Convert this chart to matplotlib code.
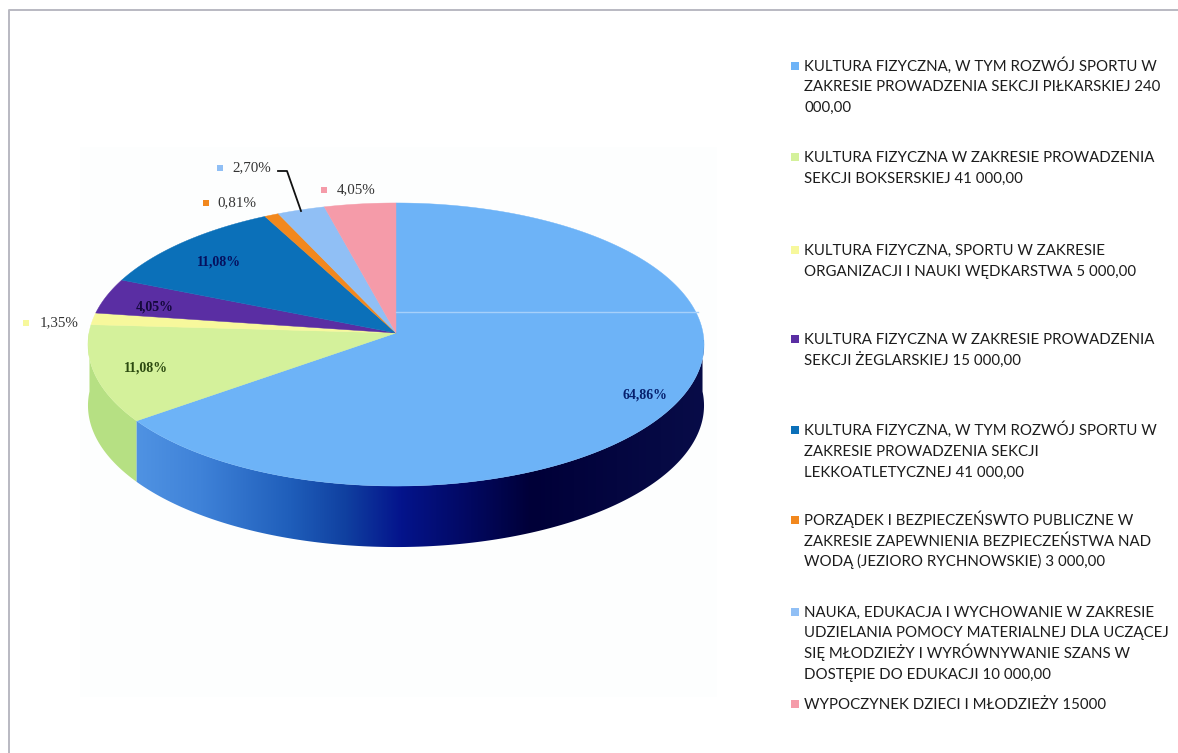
import numpy as np
import matplotlib
matplotlib.use('Agg')
import matplotlib.pyplot as plt
from matplotlib.patches import Polygon

# Data
values = [240000, 41000, 5000, 15000, 41000, 3000, 10000, 15000]
colors = ['#6db3f7', '#d4f19b', '#f7f89c', '#5a2ea3', '#0b70b9', '#f2881d', '#90bff5', '#f59ba9']
legend_labels = [
    'KULTURA FIZYCZNA, W TYM ROZWÓJ SPORTU W\nZAKRESIE PROWADZENIA SEKCJI PIŁKARSKIEJ 240\n000,00',
    'KULTURA FIZYCZNA W ZAKRESIE PROWADZENIA\nSEKCJI BOKSERSKIEJ 41 000,00',
    'KULTURA FIZYCZNA, SPORTU W ZAKRESIE\nORGANIZACJI I NAUKI WĘDKARSTWA 5 000,00',
    'KULTURA FIZYCZNA W ZAKRESIE PROWADZENIA\nSEKCJI ŻEGLARSKIEJ 15 000,00',
    'KULTURA FIZYCZNA, W TYM ROZWÓJ SPORTU W\nZAKRESIE PROWADZENIA SEKCJI\nLEKKOATLETYCZNEJ 41 000,00',
    'PORZĄDEK I BEZPIECZEŃSWTO PUBLICZNE W\nZAKRESIE ZAPEWNIENIA BEZPIECZEŃSTWA NAD\nWODĄ (JEZIORO RYCHNOWSKIE) 3 000,00',
    'NAUKA, EDUKACJA I WYCHOWANIE W ZAKRESIE\nUDZIELANIA POMOCY MATERIALNEJ DLA UCZĄCEJ\nSIĘ MŁODZIEŻY I WYRÓWNYWANIE SZANS W\nDOSTĘPIE DO EDUKACJI 10 000,00',
    'WYPOCZYNEK DZIECI I MŁODZIEŻY 15000',
]

# layout, all in image pixels
W, H = 1178, 753
APEX_X, APEX_Y = 396, 333
RX, RY, K = 307, 140.6, 0.0813   # perspective of the tilted disc
DEPTH = 61
legend_base = [70.7, 162, 255, 344, 435, 525, 616.7, 709]
LINE_STEP = 20.7
# (x, y) of label centres, None = outside label with its own marker
inside_labels = {0: (645, 395), 1: (146, 368), 3: (155, 307), 4: (219, 262)}
inside_colors = {0: '#06206e', 1: '#2c4a10', 3: '#14083c', 4: '#06105e'}
outside_labels = {2: (59, 323, 26), 5: (237, 203, 206), 6: (252, 168, 220), 7: (356, 190, 324)}


def project(deg, r=1.0):
    t = np.radians(deg)
    w = 1 + K * r * np.sin(t)
    return APEX_X + RX * r * np.cos(t) / w, APEX_Y - RY * r * np.sin(t) / w


fig = plt.figure(figsize=(W / 100, H / 100), dpi=100)
ax = fig.add_axes([0, 0, 1, 1])
ax.set_xlim(0, W)
ax.set_ylim(H, 0)
ax.axis('off')

# page edge and the faint chart area of the scan
ax.plot([1178, 9, 9], [10, 10, 753], color='#b9b9c2', lw=1.4)
ax.fill_between([80, 717], 147, 697, color='#fdfefe', lw=0)

shares = np.array(values) / sum(values)
edges = 90 - 360 * np.concatenate([[0], np.cumsum(shares)])

# side of the disc
blue_end = edges[1]
side_t = np.linspace(-180 - 1, blue_end, 60)
x, y = project(side_t)
ax.fill(np.r_[x, x[::-1]], np.r_[y, y[::-1] + DEPTH], color='#b6e083', lw=0)

side_t = np.linspace(blue_end, 1, 200)
x, y = project(side_t)
poly = Polygon(np.c_[np.r_[x, x[::-1]], np.r_[y, y[::-1] + DEPTH]], closed=True, fc='none', ec='none',
               transform=ax.transData)
ax.add_patch(poly)
stops_x = [139, 200, 290, 345, 400, 470, 530, 704]
stops_r = [0x4f, 0x3f, 0x1f, 0x10, 0x04, 0x02, 0x00, 0x08]
stops_g = [0x92, 0x82, 0x5e, 0x40, 0x14, 0x08, 0x00, 0x0c]
stops_b = [0xe2, 0xd8, 0xba, 0xa0, 0x8c, 0x60, 0x38, 0x48]
gx = np.arange(130, 710)
grad = np.dstack([np.interp(gx, stops_x, s) / 255 for s in (stops_r, stops_g, stops_b)])
im = ax.imshow(grad, extent=[130, 710, 560, 340], aspect='auto', zorder=2)
im.set_clip_path(poly)
ax.set_xlim(0, W)
ax.set_ylim(H, 0)

# top of the disc
for i in range(len(values)):
    t = np.linspace(edges[i], edges[i + 1], max(int(abs(edges[i + 1] - edges[i])) * 2, 4))
    x, y = project(t)
    ax.fill(np.r_[APEX_X, x], np.r_[APEX_Y, y], color=colors[i], lw=0.3, zorder=3)

# scan artefact across the big slice
ax.plot([396, 698], [312, 312], color='#a6d0fa', lw=1, zorder=3)

# data labels
pct = ['{:.2f}%'.format(100 * s).replace('.', ',') for s in shares]
for i, (cx, cy) in inside_labels.items():
    ax.text(cx, cy, pct[i], family='Liberation Serif', fontsize=10, fontweight='bold',
            color=inside_colors[i], ha='center', va='center', zorder=4)
for i, (cx, cy, mx) in outside_labels.items():
    ax.text(cx, cy, pct[i], family='Liberation Serif', fontsize=10.8, color='#333333',
            ha='center', va='center', zorder=4)
    ax.scatter([mx], [cy], marker='s', s=22, color=colors[i], lw=0, zorder=4)

# leader line of the 2,70% label
ax.plot([278, 287, 301], [171, 171, 211], color='#111111', lw=1.3, zorder=4)

# legend
for label, base, c in zip(legend_labels, legend_base, colors):
    for k, line in enumerate(label.split('\n')):
        ax.text(804.5, base + k * LINE_STEP, line, family='Lato', fontsize=10.8, color='#1c1c1c',
                ha='left', va='baseline')
    ax.scatter([794.5], [base - 5], marker='s', s=37, color=c, lw=0)

fig.savefig('out.png', dpi=100, facecolor='white')
